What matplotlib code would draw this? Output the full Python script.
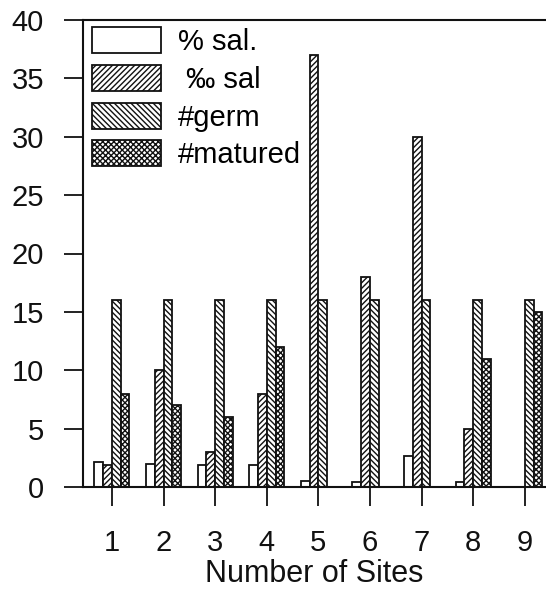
import matplotlib
matplotlib.use('Agg')
import matplotlib.pyplot as plt
from matplotlib.patches import Patch
import numpy as np

plt.rcParams['font.family'] = ['Liberation Sans', 'DejaVu Sans']
plt.rcParams['hatch.linewidth'] = 1.0

# Data
sites = [1, 2, 3, 4, 5, 6, 7, 8, 9]
pct_sal = [2.1, 2.0, 1.9, 1.85, 0.5, 0.45, 2.65, 0.4, 0.0]
permil_sal = [1.9, 10, 3, 8, 37, 18, 30, 5, 0]
germ = [16, 16, 16, 16, 16, 16, 16, 16, 16]
matured = [8, 7, 6, 12, 0, 0, 0, 11, 15]

series = [
    (pct_sal, '% sal.', ''),
    (permil_sal, ' ‰ sal', '//////'),
    (germ, '#germ', '\\\\\\\\\\\\'),
    (matured, '#matured', 'xxxxxx'),
]

fig = plt.figure(figsize=(5.46, 5.90), dpi=100)
fig.patch.set_facecolor('white')
ax = fig.add_axes([83 / 546, 103 / 590, 463 / 546, 467 / 590])

x = np.array(sites)
w = 0.17
handles = []
for i, (vals, label, hatch) in enumerate(series):
    ax.bar(x + (i - 1.5) * w, vals, width=w, facecolor='white',
           edgecolor='#111111', linewidth=1.3, hatch=hatch)
    handles.append(Patch(facecolor='white', edgecolor='#111111',
                         linewidth=1.3, hatch=hatch, label=label))

ax.set_xlim(0.44, 9.41)
ax.set_ylim(0, 40)
ax.set_yticks(range(0, 41, 5))
ax.set_xticks(sites)

for s in ['left', 'bottom', 'top']:
    ax.spines[s].set_linewidth(1.5)
    ax.spines[s].set_color('#111111')
ax.spines['right'].set_visible(False)

ax.tick_params(axis='both', direction='out', length=14, width=1.3,
               labelsize=21, colors='#111111')
ax.tick_params(axis='y', pad=14)
ax.tick_params(axis='x', pad=16)
ax.set_xlabel('Number of Sites', fontsize=22, color='#111111', labelpad=2)

leg = ax.legend(handles=handles, loc='upper left', bbox_to_anchor=(0.02, 0.985),
                frameon=False, fontsize=21, handlelength=2.35, handleheight=1.0,
                labelspacing=0.3, handletextpad=0.6, borderaxespad=0, borderpad=0)

fig.savefig('out.png', dpi=100, facecolor='white')
